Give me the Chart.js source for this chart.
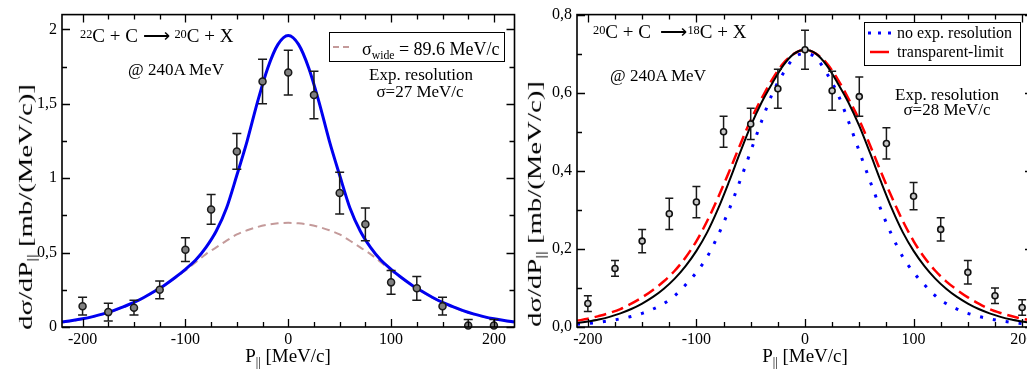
<!DOCTYPE html>
<html>
<head>
<meta charset="utf-8">
<script src="https://cdn.jsdelivr.net/npm/chart.js@4.4.1/dist/chart.umd.min.js"></script>
<style>
  body { margin:0; width:1027px; height:370px; overflow:hidden; background:#fff; position:relative;
         font-family:"Liberation Serif","Times New Roman",serif; color:#000; }
  canvas { position:absolute; top:0; }
  .t { position:absolute; white-space:nowrap; line-height:1; }
  .t sup { font-size:0.65em; line-height:0; vertical-align:0.35em; }
  .t sub { font-size:0.65em; line-height:0; vertical-align:-0.3em; }
  .box { position:absolute; border:1.5px solid #000; background:#fff; box-sizing:border-box; }
  svg { position:absolute; overflow:visible; }
</style>
</head>
<body>
<canvas id="left" width="520" height="370" style="left:0"></canvas>
<canvas id="right" width="530" height="370" style="left:515px"></canvas>
<script>
// ---- left panel: 22C + C -> 20C + X ----
var leftX   = [-200,-175,-150,-125,-100,-75,-50,-25,0,25,50,75,100,125,150,175,200];
var leftY   = [0.14,0.10,0.13,0.25,0.52,0.79,1.18,1.65,1.71,1.56,0.90,0.69,0.30,0.26,0.14,0.01,0.01];
var leftErr = [0.06,0.06,0.05,0.06,0.08,0.10,0.12,0.15,0.15,0.16,0.14,0.11,0.08,0.08,0.06,0.04,0.04];

var leftCurveX = [-220,-210,-200,-190,-180,-170,-160,-150,-140,-130,-120,-110,-100,-90,-80,-70,-60,-50,-40,-30,-20,-10,
                  0,10,20,30,40,50,60,70,80,90,100,110,120,130,140,150,160,170,180,190,200,210,220];
var leftFit  = [0.033,0.043,0.055,0.07,0.088,0.11,0.137,0.165,0.20,0.24,0.283,0.333,0.388,0.45,0.535,0.645,0.80,1.02,1.25,1.51,1.74,1.90,
                1.96,1.90,1.74,1.51,1.25,1.02,0.80,0.645,0.535,0.45,0.388,0.333,0.283,0.24,0.20,0.165,0.137,0.11,0.088,0.07,0.055,0.043,0.033];
var leftWide = [0.031,0.041,0.053,0.068,0.086,0.108,0.135,0.163,0.198,0.238,0.281,0.33,0.38,0.435,0.49,0.535,0.58,0.622,0.65,0.672,0.688,0.697,
                0.70,0.697,0.688,0.672,0.65,0.622,0.58,0.535,0.49,0.435,0.38,0.33,0.281,0.238,0.198,0.163,0.135,0.108,0.086,0.068,0.053,0.041,0.031];

var leftXTicks  = [-200,-100,0,100,200];
var leftXLabels = ['-200','-100','0','100','200'];
var leftYTicks  = [0,0.5,1,1.5,2];
var leftYLabels = ['0','0,5','1','1,5','2'];

// ---- right panel: 20C + C -> 18C + X ----
var rightX   = [-200,-175,-150,-125,-100,-75,-50,-25,0,25,50,75,100,125,150,175,200];
var rightY   = [0.06,0.15,0.22,0.29,0.32,0.50,0.52,0.61,0.71,0.605,0.59,0.47,0.335,0.25,0.14,0.08,0.05];
var rightErr = [0.02,0.02,0.03,0.04,0.04,0.04,0.04,0.05,0.05,0.05,0.05,0.04,0.035,0.03,0.03,0.02,0.02];

var rightCurveX = [-210,-200,-190,-180,-170,-160,-150,-140,-130,-120,-110,-100,-90,-80,-70,-60,-50,-40,-30,-20,-10,
                   0,10,20,30,40,50,60,70,80,90,100,110,120,130,140,150,160,170,180,190,200,210];
var rightFolded = [0.010,0.014,0.019,0.026,0.035,0.046,0.060,0.077,0.098,0.124,0.156,0.195,0.243,0.303,0.372,0.445,0.515,0.575,0.625,0.67,0.70,
                   0.71,0.70,0.67,0.625,0.575,0.515,0.445,0.372,0.303,0.243,0.195,0.156,0.124,0.098,0.077,0.060,0.046,0.035,0.026,0.019,0.014,0.010];
var rightTransp = [0.016,0.021,0.028,0.036,0.046,0.06,0.076,0.095,0.117,0.144,0.178,0.22,0.272,0.332,0.397,0.465,0.53,0.585,0.635,0.675,0.70,
                   0.71,0.70,0.675,0.635,0.585,0.53,0.465,0.397,0.332,0.272,0.22,0.178,0.144,0.117,0.095,0.076,0.06,0.046,0.036,0.028,0.021,0.016];
var rightNoRes  = [0.007,0.009,0.012,0.016,0.021,0.027,0.035,0.046,0.06,0.08,0.108,0.14,0.18,0.235,0.30,0.373,0.45,0.527,0.598,0.65,0.69,
                   0.70,0.69,0.65,0.598,0.527,0.45,0.373,0.30,0.235,0.18,0.14,0.108,0.08,0.06,0.046,0.035,0.027,0.021,0.016,0.012,0.009,0.007];

var rightXTicks  = [-200,-100,0,100,200];
var rightXLabels = ['-200','-100','0','100','200'];
var rightYTicks  = [0,0.2,0.4,0.6,0.8];
var rightYLabels = ['0,0','0,2','0,4','0,6','0,8'];


Chart.defaults.font.family = "'Liberation Serif','Times New Roman',serif";
Chart.defaults.font.size = 16;
Chart.defaults.color = '#000';

function pts(xs, ys) {
  return xs.map(function (x, i) { return {x: x, y: ys[i]}; });
}

// frame with inward ticks on all four sides
var frameTicks = {
  id: 'frameTicks',
  afterDraw: function (chart, args, o) {
    var ctx = chart.ctx, a = chart.chartArea, x = chart.scales.x, y = chart.scales.y;
    ctx.save();
    ctx.strokeStyle = '#000';
    ctx.lineWidth = 1.6;
    ctx.strokeRect(a.left, a.top, a.right - a.left, a.bottom - a.top);
    ctx.beginPath();
    ctx.lineWidth = 1.3;
    var k, v, p, len;
    for (k = Math.ceil(x.min / o.xMinor - 1e-9); k * o.xMinor <= x.max + 1e-9; k++) {
      v = k * o.xMinor;
      p = Math.round(x.getPixelForValue(v)) + 0.5;
      len = Math.abs(v / o.xMajor - Math.round(v / o.xMajor)) < 1e-6 ? 8 : 5;
      ctx.moveTo(p, a.bottom); ctx.lineTo(p, a.bottom - len);
      ctx.moveTo(p, a.top); ctx.lineTo(p, a.top + len);
    }
    for (k = Math.ceil(y.min / o.yMinor - 1e-9); k * o.yMinor <= y.max + 1e-9; k++) {
      v = k * o.yMinor;
      p = Math.round(y.getPixelForValue(v)) + 0.5;
      len = Math.abs(v / o.yMajor - Math.round(v / o.yMajor)) < 1e-6 ? 8 : 5;
      ctx.moveTo(a.left, p); ctx.lineTo(a.left + len, p);
      ctx.moveTo(a.right, p); ctx.lineTo(a.right - len, p);
    }
    ctx.stroke();
    ctx.restore();
  }
};

// error bars, drawn just before the markers (dataset 0)
var errorBars = {
  id: 'errorBars',
  beforeDatasetDraw: function (chart, args, o) {
    if (args.index !== 0) return;
    var ctx = chart.ctx, a = chart.chartArea, x = chart.scales.x, y = chart.scales.y;
    ctx.save();
    ctx.beginPath();
    ctx.rect(a.left, a.top, a.right - a.left, a.bottom - a.top);
    ctx.clip();
    ctx.strokeStyle = o.color;
    ctx.lineWidth = 1.5;
    ctx.beginPath();
    for (var i = 0; i < o.xs.length; i++) {
      var px = x.getPixelForValue(o.xs[i]);
      var top = y.getPixelForValue(o.ys[i] + o.errs[i]);
      var bot = y.getPixelForValue(o.ys[i] - o.errs[i]);
      ctx.moveTo(px, top); ctx.lineTo(px, bot);
      ctx.moveTo(px - o.cap, top); ctx.lineTo(px + o.cap, top);
      ctx.moveTo(px - o.cap, bot); ctx.lineTo(px + o.cap, bot);
    }
    ctx.stroke();
    ctx.restore();
  }
};

function makePanel(id, c) {
  return new Chart(document.getElementById(id), {
    type: 'scatter',
    data: { datasets: c.datasets },
    options: {
      responsive: false,
      animation: false,
      events: [],
      layout: { padding: c.padding },
      scales: {
        x: {
          type: 'linear', min: c.xMin, max: c.xMax,
          grid: { display: false, drawTicks: false },
          border: { display: false },
          afterBuildTicks: function (s) { s.ticks = c.xTicks.map(function (v) { return {value: v}; }); },
          afterFit: function (s) { s.height = 43; },
          ticks: { padding: 3, maxRotation: 0, autoSkip: false,
                   callback: function (v, i) { return c.xLabels[i]; } }
        },
        y: {
          type: 'linear', min: c.yMin, max: c.yMax,
          grid: { display: false, drawTicks: false },
          border: { display: false },
          afterBuildTicks: function (s) { s.ticks = c.yTicks.map(function (v) { return {value: v}; }); },
          afterFit: function (s) { s.width = 62; },
          ticks: { padding: 5, autoSkip: false,
                   callback: function (v, i) { return c.yLabels[i]; } }
        }
      },
      plugins: {
        legend: { display: false },
        tooltip: { enabled: false },
        frameTicks: c.frame,
        errorBars: c.err
      }
    },
    plugins: [frameTicks, errorBars]
  });
}

makePanel('left', {
  xMin: -220, xMax: 220, yMin: 0, yMax: 2.1,
  xTicks: leftXTicks, xLabels: leftXLabels, yTicks: leftYTicks, yLabels: leftYLabels,
  padding: { left: 0, top: 9, right: 5, bottom: 0 },
  frame: { xMinor: 25, xMajor: 100, yMinor: 0.25, yMajor: 0.5 },
  err: { xs: leftX, ys: leftY, errs: leftErr, cap: 4.5, color: '#1a1a1a' },
  datasets: [
    { data: pts(leftX, leftY), pointRadius: 3.5, pointBackgroundColor: '#808080',
      pointBorderColor: '#1a1a1a', pointBorderWidth: 1.5, showLine: false, clip: false },
    { data: pts(leftCurveX, leftFit), showLine: true, pointRadius: 0, borderColor: '#0000f0',
      borderWidth: 3, cubicInterpolationMode: 'monotone' },
    { data: pts(leftCurveX, leftWide), showLine: true, pointRadius: 0, borderColor: '#c49a9a',
      borderWidth: 2, borderDash: [8, 5], cubicInterpolationMode: 'monotone' }
  ]
});

makePanel('right', {
  xMin: -210, xMax: 210, yMin: 0, yMax: 0.8,
  xTicks: rightXTicks, xLabels: rightXLabels, yTicks: rightYTicks, yLabels: rightYLabels,
  padding: { left: 0, top: 8, right: 12, bottom: 0 },
  frame: { xMinor: 25, xMajor: 100, yMinor: 0.1, yMajor: 0.2 },
  err: { xs: rightX, ys: rightY, errs: rightErr, cap: 4, color: '#1a1a1a' },
  datasets: [
    { data: pts(rightX, rightY), pointRadius: 3, pointBackgroundColor: '#c8c8c8',
      pointBorderColor: '#111', pointBorderWidth: 1.6, showLine: false, clip: false },
    { data: pts(rightCurveX, rightFolded), showLine: true, pointRadius: 0, borderColor: '#000',
      borderWidth: 2, cubicInterpolationMode: 'monotone' },
    { data: pts(rightCurveX, rightTransp), showLine: true, pointRadius: 0, borderColor: '#ff0000',
      borderWidth: 2.5, borderDash: [12, 6], cubicInterpolationMode: 'monotone' },
    { data: pts(rightCurveX, rightNoRes), showLine: true, pointRadius: 0, borderColor: '#0000ff',
      borderWidth: 3, borderDash: [3, 10], cubicInterpolationMode: 'monotone' }
  ]
});

// ---- text overlays ----
function txt(html, x, base, size, center) {
  var d = document.createElement('div');
  d.className = 't';
  d.innerHTML = html;
  d.style.fontSize = size + 'px';
  d.style.top = (base - 0.84 * size) + 'px';
  d.style.left = x + 'px';
  if (center) d.style.transform = 'translateX(-50%)';
  document.body.appendChild(d);
  return d;
}

function ytitle(cx, cy, len) {
  var d = txt('d&sigma;/dP<sub>||</sub> [mb/(MeV/c)]', 0, 0, 18, false);
  var w = d.offsetWidth, h = d.offsetHeight;
  d.style.left = (cx - w / 2) + 'px';
  d.style.top = (cy - h / 2) + 'px';
  d.style.transform = 'rotate(-90deg) scaleX(' + (len / w) + ')';
}

function box(x, y, w, h) {
  var d = document.createElement('div');
  d.className = 'box';
  d.style.left = x + 'px'; d.style.top = y + 'px';
  d.style.width = w + 'px'; d.style.height = h + 'px';
  document.body.appendChild(d);
}

function sample(x1, x2, y, color, width, dash) {
  var s = document.createElementNS('http://www.w3.org/2000/svg', 'svg');
  s.setAttribute('width', 1); s.setAttribute('height', 1);
  s.style.left = '0px'; s.style.top = '0px';
  s.innerHTML = '<line x1="' + x1 + '" y1="' + y + '" x2="' + x2 + '" y2="' + y + '" stroke="' + color +
                '" stroke-width="' + width + '" stroke-dasharray="' + dash + '"/>';
  document.body.appendChild(s);
}

// left panel texts
ytitle(26, 207, 246);
txt('P<sub>||</sub> [MeV/c]', 288, 362, 19, true);
txt('<sup>22</sup>C + C &#x27F6; <sup>20</sup>C + X', 80, 42, 19, false);
txt('@ 240A MeV', 128, 75, 17, false);
box(329, 32, 176, 30);
sample(333, 351, 47, '#c49a9a', 2, '6 4');
txt('&sigma;<sub>wide</sub> = 89.6 MeV/c', 362, 55, 18, false);
txt('Exp. resolution', 421, 80, 17, true);
txt('&sigma;=27 MeV/c', 420, 97, 17, true);

// right panel texts
ytitle(535, 204, 246);
txt('P<sub>||</sub> [MeV/c]', 805, 362, 19, true);
txt('<sup>20</sup>C + C &nbsp;&#x27F6;<sup>18</sup>C + X', 593, 38, 19, false);
txt('@ 240A MeV', 610, 81, 17, false);
box(864, 22, 157, 44);
sample(868, 891, 33, '#0000ff', 3, '3 7');
sample(870, 889, 52, '#ff0000', 2.5, '19 0');
txt('no exp. resolution', 897, 38, 16, false);
txt('transparent-limit', 897, 57, 16, false);
txt('Exp. resolution', 947, 100, 17, true);
txt('&sigma;=28 MeV/c', 947, 115, 17, true);
</script>
</body>
</html>
